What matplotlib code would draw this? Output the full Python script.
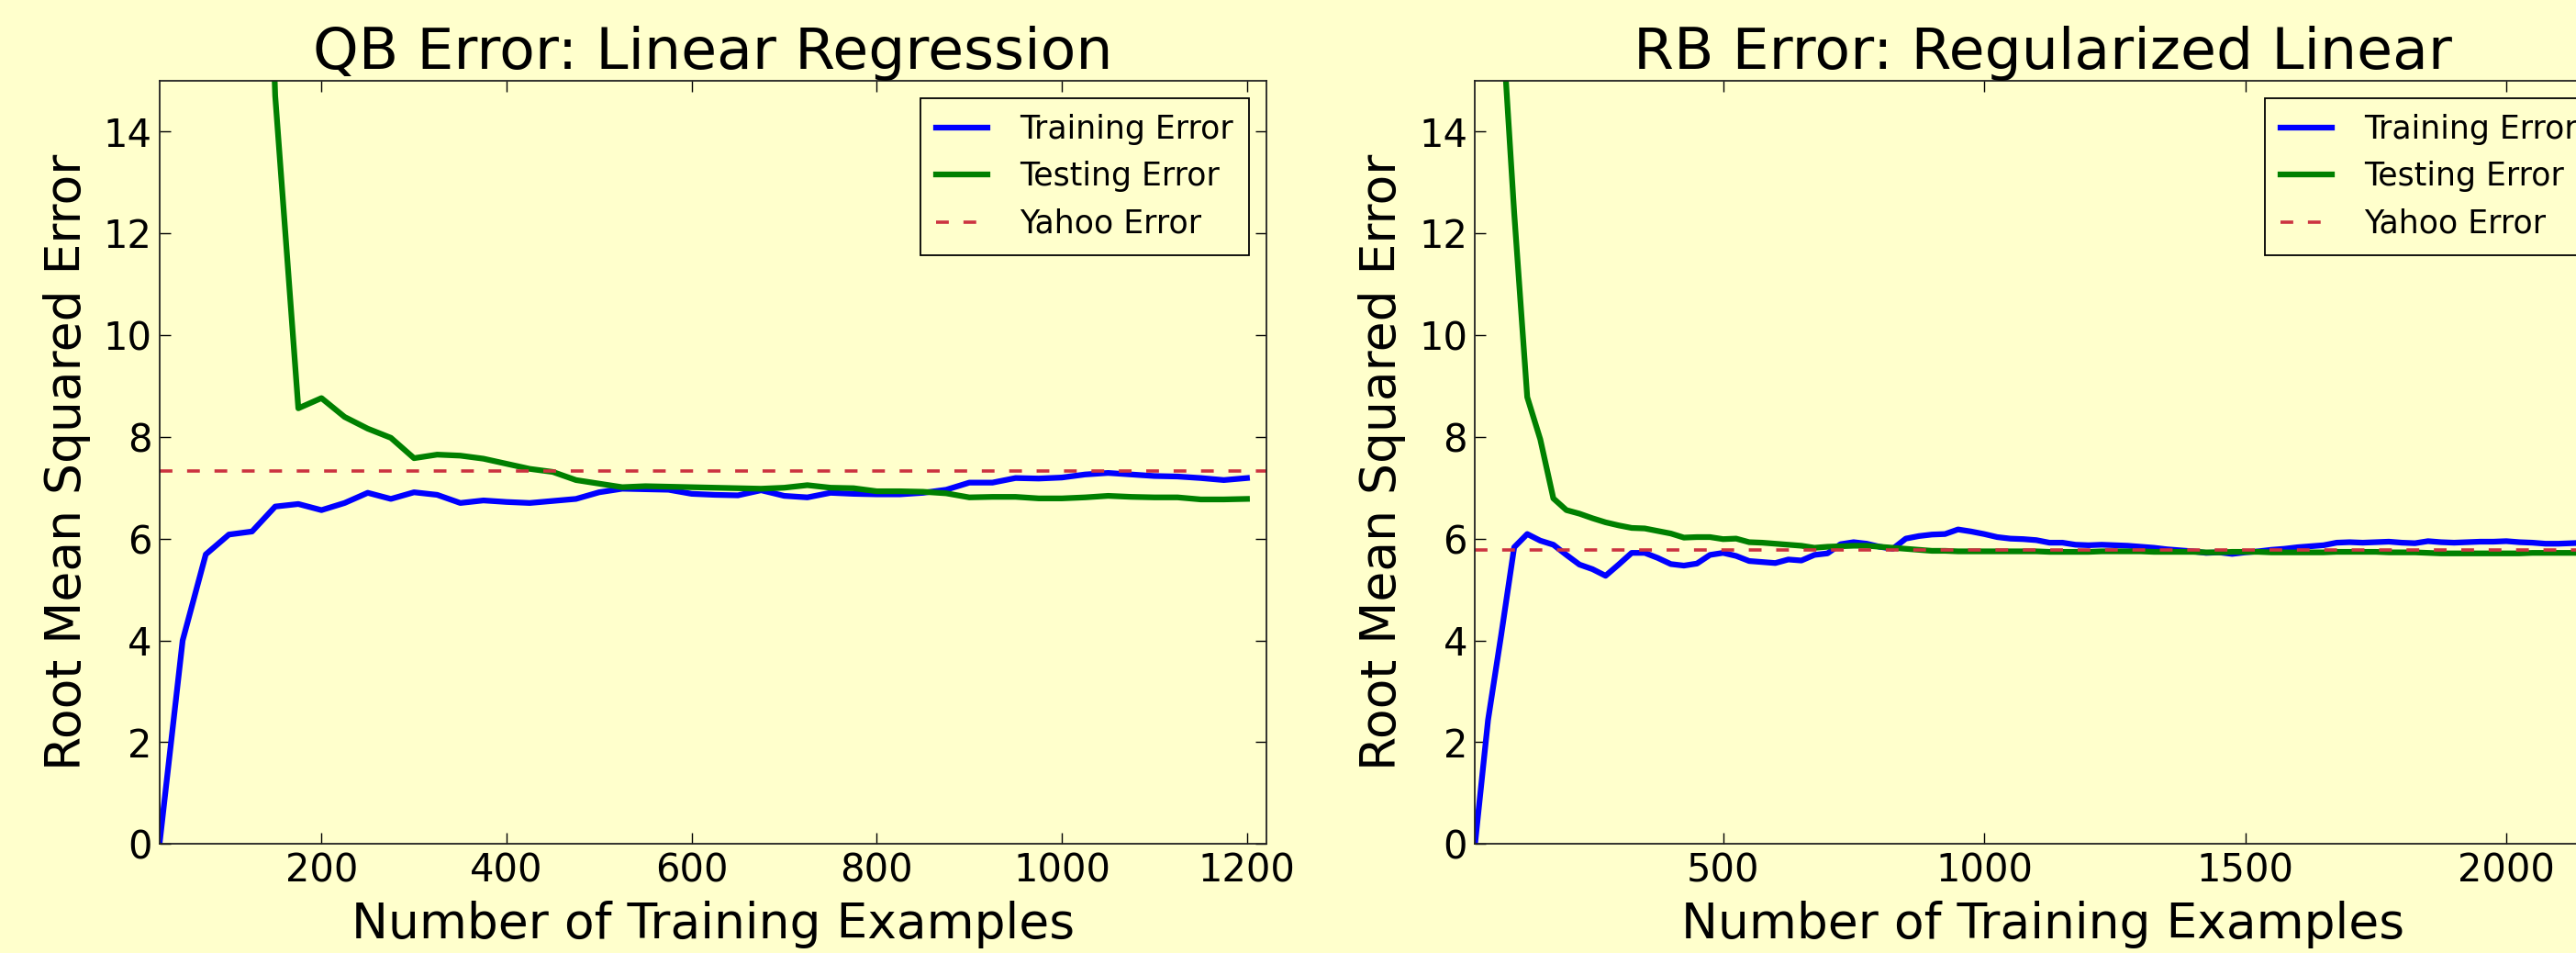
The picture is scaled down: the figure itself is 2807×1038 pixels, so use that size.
import matplotlib
matplotlib.use("Agg")
import matplotlib.pyplot as plt
import numpy as np

# ---------------- data ----------------
qb_x = list(range(25, 1201, 25))
qb_train = [0.0, 4.0, 5.69, 6.08, 6.14, 6.63, 6.68, 6.56, 6.70, 6.90,
            6.78, 6.91, 6.86, 6.70, 6.75, 6.72, 6.70, 6.74, 6.78, 6.91,
            6.98, 6.97, 6.96, 6.88, 6.86, 6.85, 6.95, 6.84, 6.81, 6.90,
            6.88, 6.87, 6.87, 6.90, 6.96, 7.10, 7.10, 7.19, 7.18, 7.20,
            7.26, 7.29, 7.26, 7.23, 7.22, 7.19, 7.15, 7.19]
qb_test = [120.0, 90.0, 60.0, 40.0, 28.0, 14.7, 8.56, 8.76, 8.39, 8.16,
           7.98, 7.58, 7.65, 7.63, 7.57, 7.47, 7.37, 7.31, 7.15, 7.08,
           7.01, 7.03, 7.02, 7.01, 7.00, 6.99, 6.98, 7.00, 7.05, 7.00,
           6.99, 6.93, 6.93, 6.92, 6.89, 6.81, 6.82, 6.82, 6.79, 6.79,
           6.81, 6.84, 6.82, 6.81, 6.81, 6.77, 6.77, 6.78]
qb_yahoo = 7.32

rb_x = list(range(25, 2201, 25))
rb_train = [0.0, 2.44, 4.10, 5.83, 6.09, 5.96, 5.88, 5.68, 5.49, 5.40,
            5.27, 5.49, 5.72, 5.72, 5.62, 5.50, 5.47, 5.51, 5.68, 5.72,
            5.66, 5.56, 5.54, 5.52, 5.59, 5.57, 5.68, 5.71, 5.89, 5.93,
            5.90, 5.84, 5.80, 6.00, 6.05, 6.08, 6.09, 6.18, 6.14, 6.09,
            6.03, 6.00, 5.99, 5.97, 5.92, 5.92, 5.88, 5.87, 5.88, 5.87,
            5.86, 5.84, 5.82, 5.79, 5.77, 5.75, 5.72, 5.73, 5.70, 5.73,
            5.75, 5.78, 5.80, 5.83, 5.85, 5.87, 5.92, 5.93, 5.92, 5.93,
            5.94, 5.92, 5.91, 5.95, 5.93, 5.92, 5.93, 5.94, 5.94, 5.95,
            5.93, 5.92, 5.90, 5.90, 5.91, 5.92, 5.91, 5.92]
rb_test = [60.0, 30.0, 16.5, 12.4, 8.78, 7.95, 6.79, 6.56, 6.49, 6.40,
           6.32, 6.26, 6.21, 6.20, 6.15, 6.10, 6.02, 6.03, 6.03, 5.99,
           6.00, 5.93, 5.92, 5.90, 5.88, 5.86, 5.82, 5.84, 5.85, 5.86,
           5.86, 5.84, 5.82, 5.80, 5.78, 5.76, 5.76, 5.75, 5.75, 5.75,
           5.75, 5.75, 5.75, 5.75, 5.74, 5.74, 5.74, 5.74, 5.75, 5.75,
           5.75, 5.75, 5.74, 5.74, 5.74, 5.74, 5.73, 5.73, 5.74, 5.74,
           5.74, 5.73, 5.73, 5.73, 5.73, 5.73, 5.74, 5.74, 5.74, 5.74,
           5.73, 5.73, 5.73, 5.72, 5.71, 5.71, 5.71, 5.71, 5.71, 5.71,
           5.71, 5.72, 5.72, 5.72, 5.72, 5.72, 5.72, 5.72]
rb_yahoo = 5.78

titles = ["QB Error: Linear Regression", "RB Error: Regularized Linear"]
xlabel = "Number of Training Examples"
ylabel = "Root Mean Squared Error"
legend_labels = ["Training Error", "Testing Error", "Yahoo Error"]

# ---------------- style ----------------
BG = "#ffffcc"
plt.rcParams["font.family"] = ["DejaVu Sans"]
plt.rcParams["lines.scale_dashes"] = False

fig = plt.figure(figsize=(28.07, 10.38), dpi=100, facecolor=BG)

bottom = 0.1143
height = 0.8013
ax_specs = [
    (0.06192, 0.4297, qb_x, qb_train, qb_test, qb_yahoo, (25, 1221)),
    (0.5726, 0.4409, rb_x, rb_train, rb_test, rb_yahoo, (25, 2200)),
]

for i, (left, width, xs, tr, te, yh, xl) in enumerate(ax_specs):
    ax = fig.add_axes([left, bottom, width, height])
    ax.set_facecolor(BG)
    ax.plot(xs, tr, color="#0000ff", lw=4.5, label=legend_labels[0])
    ax.plot(xs, te, color="#008000", lw=4.5, label=legend_labels[1])
    ax.axhline(yh, color="#cc3340", lw=2.6, dashes=(10, 11.5),
               label=legend_labels[2])
    ax.set_xlim(*xl)
    ax.set_ylim(0, 15)
    ax.set_yticks(np.arange(0, 15, 2))
    if i == 0:
        ax.set_xticks(np.arange(200, 1201, 200))
    else:
        ax.set_xticks(np.arange(500, 2001, 500))
    ax.tick_params(direction="in", length=8.3, width=1.0, top=True,
                   right=True, labelsize=30, pad=6, colors="black")
    for sp in ax.spines.values():
        sp.set_linewidth(1.3)
        sp.set_color("#222222")
    ax.set_title(titles[i], fontsize=45.5, pad=9)
    ax.set_xlabel(xlabel, fontsize=38.5, labelpad=8)
    ax.set_ylabel(ylabel, fontsize=38.5, labelpad=10)
    leg = ax.legend(loc="upper right", fontsize=25, fancybox=False,
                    framealpha=1.0, facecolor=BG, edgecolor="black",
                    handlelength=1.6, handletextpad=1.0, borderpad=0.5,
                    labelspacing=0.5, borderaxespad=0.55)
    leg.get_frame().set_linewidth(1.3)

fig.savefig("out.png", dpi=100, facecolor=BG)
